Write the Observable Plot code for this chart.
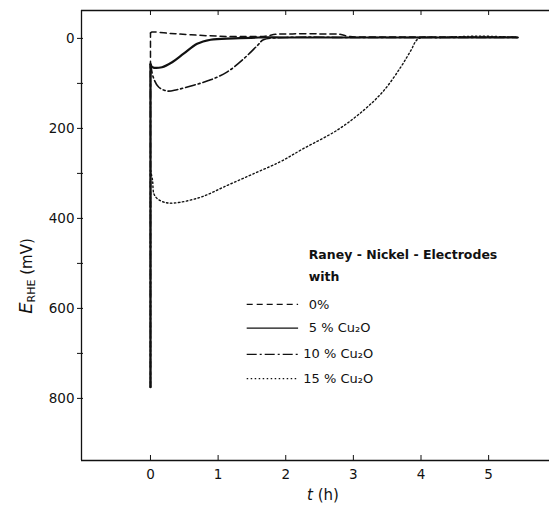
<!DOCTYPE html>
<html>
<head>
<meta charset="utf-8">
<script src="https://cdn.jsdelivr.net/npm/d3@7"></script>
<script src="https://cdn.jsdelivr.net/npm/@observablehq/plot@0.6"></script>
<style>
  body { margin: 0; background: #fff; }
  svg { font-family: "DejaVu Sans", sans-serif; }
</style>
</head>
<body>
<div id="chart"></div>
<script>
// Potential transients of Raney-nickel electrodes (E vs. RHE, mV) over time (h)
const series = ["0%", "5 % Cu₂O", "10 % Cu₂O", "15 % Cu₂O"];

// the first point of each series is the starting potential; the rest is the transient
const t0  = [0, 0, 0.02, 0.3, 0.6, 1.0, 1.4, 1.7, 1.85, 2.1, 2.5, 2.8, 2.95, 3.3, 4.0, 5.0, 5.43];
const e0  = [775, -12, -14, -11, -8, -5, -4, -5, -9, -10, -10, -9, -4, -3, -3, -3, -3];

const t5  = [0, 0, 0.03, 0.17, 0.32, 0.49, 0.69, 0.89, 1.23, 1.6, 2.0, 3.0, 4.0, 5.0, 5.43];
const e5  = [775, 58, 64, 64, 53, 34, 12, 3, 0, -2, -2, -2, -2, -2, -2];

const t10 = [0, 0, 0.04, 0.12, 0.25, 0.39, 0.64, 0.89, 1.13, 1.38, 1.58, 1.67, 2.0, 3.0, 4.0, 5.0, 5.43];
const e10 = [775, 55, 86, 108, 117, 114, 104, 92, 75, 45, 16, 3, -2, -2, -2, -2, -2];

const t15 = [0, 0, 0.03, 0.05, 0.1, 0.2, 0.34, 0.74, 1.13, 1.52, 1.92, 2.26, 2.76, 3.15, 3.45, 3.70, 3.85, 3.96, 4.3, 4.9, 5.43];
const e15 = [775, 293, 315, 345, 356, 364, 366, 353, 327, 301, 274, 245, 204, 160, 116, 64, 27, 1, -2, -5, -2];

const xTicks = [0, 1, 2, 3, 4, 5];
const yTicks = [0, 100, 200, 300, 400, 500, 600, 700, 800];
const yTickLabels = ["0", "", "200", "", "400", "", "600", "", "800"];

const legendTitle = ["Raney - Nickel - Electrodes", "with"];

// line styles, one per series
const styles = [
  {strokeWidth: 1.5, strokeDasharray: "6,4"},
  {strokeWidth: 2.2, strokeDasharray: null},
  {strokeWidth: 1.6, strokeDasharray: "10,3,2,3"},
  {strokeWidth: 1.4, strokeDasharray: "1.5,2.5"}
];

const ts = [t0, t5, t10, t15];
const es = [e0, e5, e10, e15];
const curves = series.map((s, i) => ts[i].map((t, j) => ({t, e: es[i][j], s})));

const xDomain = [-1.02, 5.9];
const yDomain = [-62, 938];
const W = 549, H = 505, mL = 81, mT = 10, mB = 45, mR = 0;
const innerH = H - mT - mB;
const innerW = W - mL - mR;

// legend layout (data units)
const legX1 = 1.43, legX2 = 2.19, legTextX = 2.34;
const legTitleY = [482, 531];
const legRowY = [591, 644, 702, 756];

const marks = [
  Plot.ruleX([xDomain[0]], {stroke: "#111", strokeWidth: 1.3}),
  Plot.ruleY([yDomain[0]], {stroke: "#111", strokeWidth: 1.3}),
  Plot.ruleY([yDomain[1]], {stroke: "#111", strokeWidth: 1.3}),
  // inward ticks on the top and bottom edges
  Plot.ruleX(xTicks, {insetTop: innerH - 5, stroke: "#111"}),
  Plot.ruleX(xTicks, {insetBottom: innerH - 5, stroke: "#111"}),
  Plot.axisX({ticks: xTicks, tickSize: 0, tickPadding: 9, fontSize: 13.5, label: null, tickFormat: "d"}),
  Plot.axisY({ticks: yTicks, tickSize: 4, tickPadding: 3, fontSize: 13.5, label: null,
    tickFormat: (d) => yTickLabels[yTicks.indexOf(d)]}),
  Plot.ruleY(yTicks, {insetRight: innerW - 2, stroke: "#111"}),
  // vertical jump at switch-on, then the smooth transient
  ...curves.map((c, i) => Plot.line(c.slice(0, 2), {x: "t", y: "e", stroke: "#111", ...styles[i]})),
  ...curves.map((c, i) => Plot.line(c.slice(1), {x: "t", y: "e", stroke: "#111", curve: "catmull-rom", ...styles[i]})),
  // legend
  Plot.text(legendTitle, {x: legTextX, y: (d, i) => legTitleY[i], text: (d) => d, textAnchor: "start", fontSize: 12.5, fontWeight: 600, fill: "#111"}),
  ...series.map((s, i) => Plot.ruleY([legRowY[i]], {x1: legX1, x2: legX2, stroke: "#111", ...styles[i], strokeWidth: 1.2})),
  Plot.text(series, {x: (d, i) => (i >= 2 ? legTextX - 0.08 : legTextX), y: (d, i) => legRowY[i], text: (d) => d, textAnchor: "start", fontSize: 13, fill: "#111"})
];

const chart = Plot.plot({
  width: W, height: H,
  marginLeft: mL, marginTop: mT, marginBottom: mB, marginRight: mR,
  style: {fontFamily: "DejaVu Sans, sans-serif", color: "#111", background: "#fff"},
  x: {domain: xDomain},
  y: {domain: yDomain, reverse: true},
  marks
});

const svg = d3.select(chart);
// axis titles with italic symbols and subscript
const yl = svg.append("text")
  .attr("transform", "translate(32,276) rotate(-90)")
  .attr("text-anchor", "middle")
  .attr("fill", "#111")
  .style("font-size", "15px");
yl.append("tspan").attr("font-style", "italic").style("font-size", "18px").text("E");
yl.append("tspan").attr("dy", 3).style("font-size", "11px").text("RHE");
yl.append("tspan").attr("dy", -3).text(" (mV)");

const xl = svg.append("text")
  .attr("x", 323).attr("y", 500)
  .attr("text-anchor", "middle")
  .attr("fill", "#111")
  .style("font-size", "15px");
xl.append("tspan").attr("font-style", "italic").text("t");
xl.append("tspan").text(" (h)");

document.getElementById("chart").appendChild(chart);
</script>
</body>
</html>
